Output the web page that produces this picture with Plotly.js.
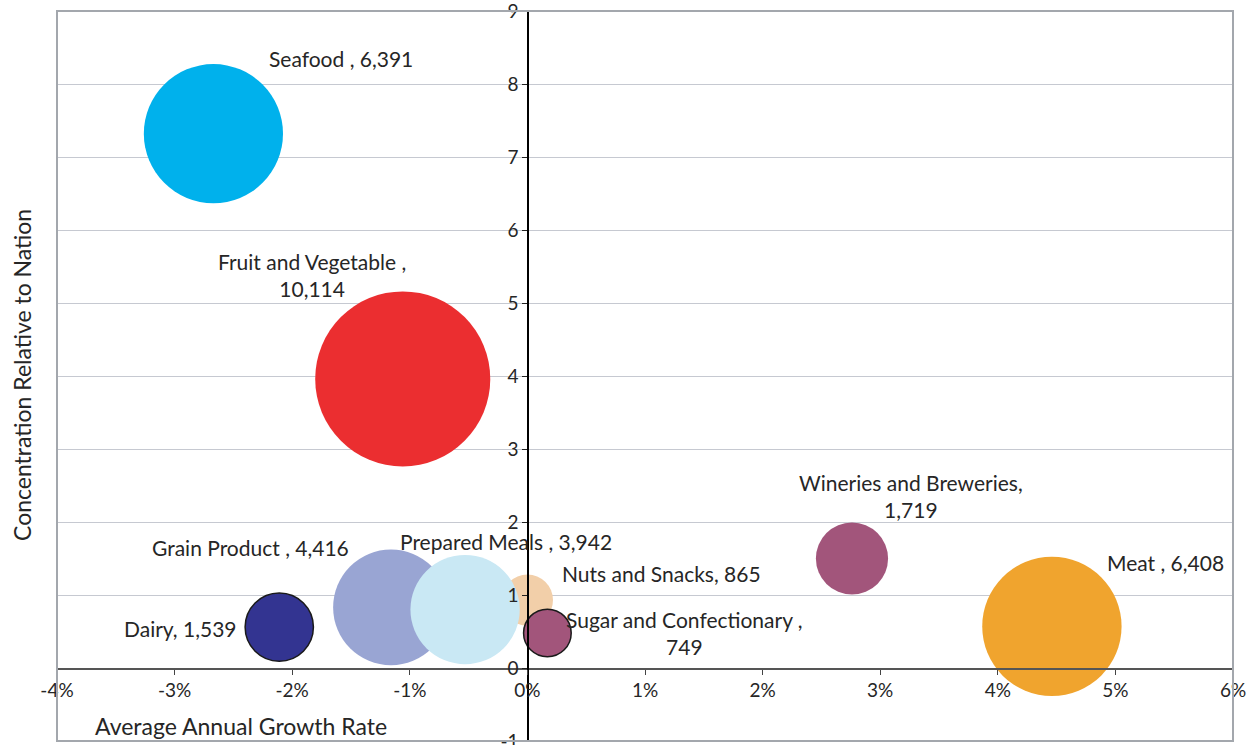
<!DOCTYPE html>
<html>
<head>
<meta charset="utf-8">
<script src="https://cdn.plot.ly/plotly-3.0.1.min.js"></script>
<style>
  html, body { margin: 0; padding: 0; background: #ffffff; }
  #chart { width: 1257px; height: 745px; }
</style>
</head>
<body>
<div id="chart"></div>
<script>
// ---- data ----
const categories = ["Seafood", "Fruit and Vegetable", "Grain Product", "Nuts and Snacks",
                    "Prepared Meals", "Sugar and Confectionary", "Dairy",
                    "Wineries and Breweries", "Meat"];
// average annual growth rate (fraction)
const growthRate = [-0.0267, -0.0106, -0.0116, 0.0000, -0.0053, 0.0017, -0.0211, 0.0276, 0.0446];
// concentration relative to nation
const concentration = [7.32, 3.96, 0.83, 0.93, 0.80, 0.48, 0.56, 1.50, 0.57];
// employment (bubble size)
const employment = [6391, 10114, 4416, 865, 3942, 749, 1539, 1719, 6408];
// separator between name and value as printed in each label
const labelSep = [" , ", " ,<br>", " , ", ", ", " , ", " ,<br>", ", ", ",<br>", " , "];

const xTickVals = [-0.04, -0.03, -0.02, -0.01, 0, 0.01, 0.02, 0.03, 0.04, 0.05, 0.06];
const xTickLabels = ["-4%", "-3%", "-2%", "-1%", "0%", "1%", "2%", "3%", "4%", "5%", "6%"];
const yTickVals = [-1, 0, 1, 2, 3, 4, 5, 6, 7, 8, 9];
const yTickLabels = ["-1", "0", "1", "2", "3", "4", "5", "6", "7", "8", "9"];

// ---- styling ----
const colors = ["#00b1ec", "#eb2e30", "#99a5d3", "#f2cfa9", "#c9e8f4", "#a2557b",
                "#333491", "#a2557b", "#f0a42e"];
const lineW = [0, 0, 0, 0, 0, 1.5, 1.5, 0, 0];
// label placement: [x, y, xanchor]
const labelPos = [
  [-0.02217, 8.35, "left"],
  [-0.0183, 5.39, "center"],
  [-0.03206, 1.65, "left"],
  [0.00275, 1.30, "left"],
  [-0.01104, 1.73, "left"],
  [0.01338, 0.48, "center"],
  [-0.02452, 0.545, "right"],
  [0.03259, 2.35, "center"],
  [0.04909, 1.45, "left"]
];

const fmt = v => v.toLocaleString("en-US");
const FONT = "Lato, 'Open Sans', sans-serif";
const TXT = "#262626";

const trace = {
  type: "scatter",
  mode: "markers",
  x: growthRate,
  y: concentration,
  text: categories,
  marker: {
    size: employment,
    sizemode: "area",
    sizeref: 0.66,
    color: colors,
    opacity: 1,
    line: { color: "#1a1a1a", width: lineW }
  },
  hoverinfo: "text",
  showlegend: false
};

const annotations = categories.map((c, i) => ({
  x: labelPos[i][0], y: labelPos[i][1], xref: "x", yref: "y",
  xanchor: labelPos[i][2], yanchor: "middle",
  text: c + labelSep[i] + fmt(employment[i]),
  showarrow: false,
  align: "center",
  font: { family: FONT, size: 21, color: TXT }
}));

annotations.push({
  xref: "paper", yref: "paper", x: (93 - 57) / 1176, y: (741 - 726) / 730,
  xanchor: "left", yanchor: "middle",
  text: "Average Annual Growth Rate", showarrow: false,
  font: { family: FONT, size: 23, color: TXT }
});
annotations.push({
  xref: "paper", yref: "paper", x: -35 / 1176, y: (741 - 375) / 730,
  xanchor: "center", yanchor: "middle",
  text: "Concentration Relative to Nation", showarrow: false, textangle: -90,
  font: { family: FONT, size: 23, color: TXT }
});

const layout = {
  width: 1257, height: 745,
  margin: { l: 57, r: 24, t: 11, b: 4 },
  paper_bgcolor: "#ffffff", plot_bgcolor: "#ffffff",
  font: { family: FONT, color: TXT },
  xaxis: {
    range: [-0.04, 0.06], anchor: "free", position: 0.1,
    showline: true, linecolor: "#555555", linewidth: 1.5,
    ticks: "outside", ticklen: 5, tickcolor: "#444444",
    tickvals: xTickVals, ticktext: xTickLabels,
    showgrid: false, zeroline: false, ticklabeloverflow: "allow",
    tickfont: { family: FONT, size: 19, color: TXT }
  },
  yaxis: {
    range: [-1, 9], anchor: "free", position: 0.4,
    showline: true, linecolor: "#000000", linewidth: 1.2,
    ticks: "outside", ticklen: 5, tickcolor: "#222222",
    tickvals: yTickVals, ticktext: yTickLabels,
    showgrid: true, gridcolor: "#c6c9d1", gridwidth: 1,
    zeroline: false, ticklabeloverflow: "allow",
    tickfont: { family: FONT, size: 19, color: TXT }
  },
  shapes: [{
    type: "rect", xref: "paper", yref: "paper", x0: 0, x1: 1, y0: 0, y1: 1,
    line: { color: "#a3a7ad", width: 2 }, layer: "above"
  }],
  annotations: annotations
};

Plotly.newPlot("chart", [trace], layout, { staticPlot: true, displayModeBar: false });
</script>
</body>
</html>
